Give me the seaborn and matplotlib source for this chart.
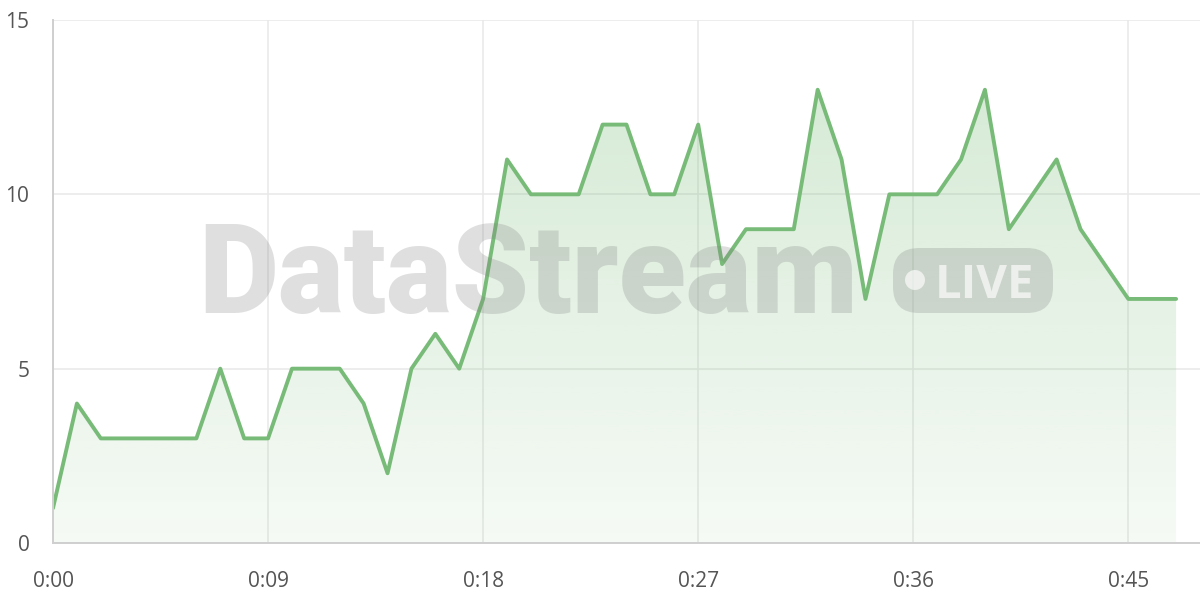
import numpy as np
import pandas as pd
import matplotlib
matplotlib.use("Agg")
import matplotlib.pyplot as plt
import seaborn as sns
from matplotlib.patches import FancyBboxPatch, Circle
from matplotlib.transforms import IdentityTransform

# ---- data ----
seconds = list(range(48))
values = [1, 4, 3, 3, 3, 3, 3, 5, 3, 3,
          5, 5, 5, 4, 2, 5, 6, 5, 7, 11,
          10, 10, 10, 12, 12, 10, 10, 12, 8, 9,
          9, 9, 13, 11, 7, 10, 10, 10, 11, 13,
          9, 10, 11, 9, 8, 7, 7, 7]
x_ticks = [0, 9, 18, 27, 36, 45]
x_tick_labels = ["0:00", "0:09", "0:18", "0:27", "0:36", "0:45"]
y_ticks = [0, 5, 10, 15]
watermark = "DataStream"
badge_text = "LIVE"

LINE = "#78bb78"
GRID = "#e8e8e8"
AXIS = "#cfcfcf"
TXT = "#555555"

df = pd.DataFrame({"t": seconds, "v": values})

sns.set_theme(style="white")
plt.rcParams["font.family"] = ["Open Sans", "DejaVu Sans"]

fig = plt.figure(figsize=(12, 6), dpi=100)
ax = fig.add_axes([53 / 1200, 57 / 600, (1200 - 53) / 1200, (543 - 20) / 600])

ax.set_xlim(0, 48)
ax.set_ylim(0, 15)

# gradient fill under line
poly = ax.fill_between(df["t"], df["v"], 0, color="none", lw=0)
path = poly.get_paths()[0]
vmax = max(values)
grad = np.linspace(0.07, 0.30, 256).reshape(-1, 1)
rgba = np.zeros((256, 1, 4))
rgba[..., 0] = 0x78 / 255
rgba[..., 1] = 0xbb / 255
rgba[..., 2] = 0x78 / 255
rgba[..., 3] = grad
im = ax.imshow(rgba, extent=[0, 47, 0, vmax], origin="lower", aspect="auto", zorder=1)
im.set_clip_path(path, transform=ax.transData)

sns.lineplot(data=df, x="t", y="v", ax=ax, color=LINE, linewidth=2.8, zorder=3)

ax.set_xticks(x_ticks)
ax.set_xticklabels(x_tick_labels)
ax.set_yticks(y_ticks)
ax.set_xlabel("")
ax.set_ylabel("")

ax.grid(True, color=GRID, linewidth=1.1)
ax.set_axisbelow(True)
for s in ["top", "right"]:
    ax.spines[s].set_visible(False)
for s in ["left", "bottom"]:
    ax.spines[s].set_color(AXIS)
    ax.spines[s].set_linewidth(1.4)
    ax.spines[s].set_zorder(4)

ax.tick_params(axis="x", length=11, width=1.1, color=GRID, pad=9, labelsize=15, labelcolor=TXT)
ax.tick_params(axis="y", length=11, width=1.1, color=GRID, pad=6, labelsize=15, labelcolor=TXT)
ax.set_xlim(0, 48)
ax.set_ylim(0, 15)

# watermark
fig.text(198 / 1200, (600 - 313) / 600, watermark, ha="left", va="baseline",
         fontsize=89, fontweight="heavy", color="#808080", alpha=0.25, zorder=10,
         family=["Roboto", "DejaVu Sans"])
badge = FancyBboxPatch((893, 600 - 313), 160, 65, boxstyle="round,pad=0,rounding_size=26",
                       transform=IdentityTransform(), facecolor="#808080", alpha=0.25,
                       edgecolor="none", zorder=10)
fig.patches.append(badge)
dot = Circle((915, 600 - 280), 10, transform=IdentityTransform(), facecolor="white",
             alpha=0.65, edgecolor="none", zorder=11)
fig.patches.append(dot)
fig.text(935 / 1200, (600 - 298) / 600, badge_text, ha="left", va="baseline",
         fontsize=34, fontweight="bold", color="white", alpha=0.65, zorder=11,
         family=["Open Sans", "DejaVu Sans"])

fig.savefig("out.png", dpi=100)
